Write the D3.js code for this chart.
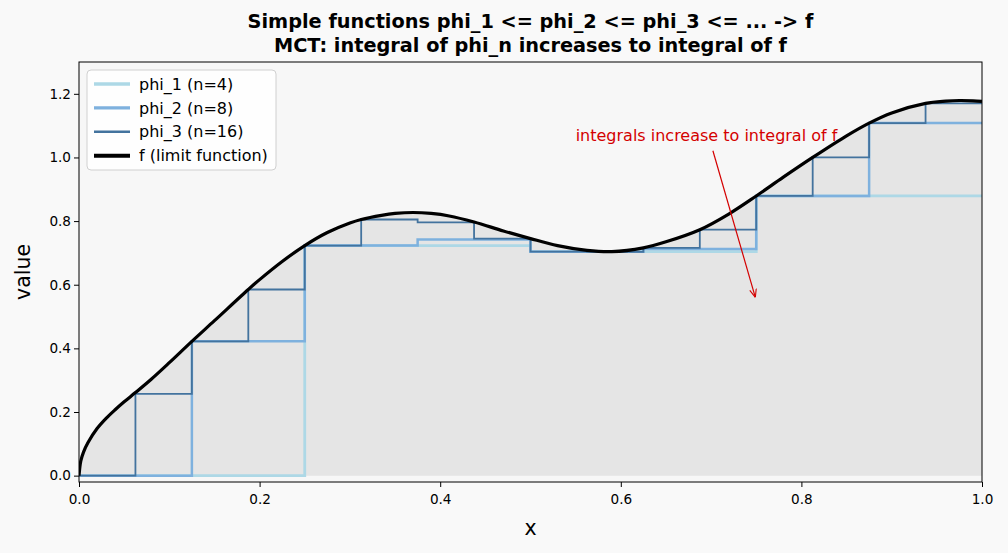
<!DOCTYPE html>
<html>
<head>
<meta charset="utf-8">
<script src="https://cdn.jsdelivr.net/npm/d3@7"></script>
<style>
  body { margin: 0; background: #f9f9f9; }
  svg { font-family: "DejaVu Sans", sans-serif; }
</style>
</head>
<body>
<div id="chart"></div>
<script>
"use strict";

// limit function f
var fX = [0, 0.002, 0.005, 0.01, 0.02, 0.03, 0.04, 0.05, 0.0625, 0.08, 0.1, 0.125, 0.15, 0.1875, 0.2, 0.225, 0.25,
  0.275, 0.3, 0.3125, 0.335, 0.35, 0.37, 0.39, 0.41, 0.4375, 0.47, 0.5, 0.53, 0.5625, 0.59, 0.625, 0.65, 0.6875,
  0.72, 0.75, 0.78, 0.8125, 0.85, 0.875, 0.9, 0.9375, 0.96, 0.975, 0.99, 1.0];
var fY = [0, 0.046, 0.074, 0.104, 0.148, 0.18, 0.207, 0.232, 0.261, 0.303, 0.355, 0.422, 0.487, 0.585, 0.616, 0.673, 0.723,
  0.764, 0.794, 0.805, 0.818, 0.824, 0.827, 0.824, 0.816, 0.797, 0.769, 0.745, 0.723, 0.708, 0.704, 0.716, 0.735, 0.773,
  0.823, 0.879, 0.938, 1.0, 1.068, 1.108, 1.14, 1.17, 1.177, 1.179, 1.178, 1.176];

// simple functions: left edges and values on each piece
var phi1Edges = [0, 0.25, 0.5, 0.75];
var phi1Vals = [0, 0.723, 0.704, 0.879];
var phi2Edges = [0, 0.125, 0.25, 0.375, 0.5, 0.625, 0.75, 0.875];
var phi2Vals = [0, 0.422, 0.723, 0.742, 0.704, 0.712, 0.879, 1.108];
var phi3Edges = [0, 0.0625, 0.125, 0.1875, 0.25, 0.3125, 0.375, 0.4375, 0.5, 0.5625, 0.625, 0.6875, 0.75, 0.8125, 0.875, 0.9375];
var phi3Vals = [0, 0.257, 0.422, 0.585, 0.723, 0.805, 0.796, 0.745, 0.704, 0.703, 0.716, 0.773, 0.879, 1.0, 1.108, 1.17];

var seriesNames = ["phi_1 (n=4)", "phi_2 (n=8)", "phi_3 (n=16)", "f (limit function)"];
var xTicks = [0, 0.2, 0.4, 0.6, 0.8, 1.0];
var yTicks = [0, 0.2, 0.4, 0.6, 0.8, 1.0, 1.2];

var W = 1008, H = 553;
var margin = {top: 62, right: 26, bottom: 71, left: 79},
    width = W - margin.left - margin.right,
    height = H - margin.top - margin.bottom;

var x = d3.scaleLinear().domain([0, 1]).range([0, width]);
var y = d3.scaleLinear().domain([-0.02, 1.3]).range([height, 0]);

var svg = d3.select("#chart").append("svg")
  .attr("width", W).attr("height", H)
  .style("background", "#f9f9f9");

var defs = svg.append("defs");
defs.append("clipPath").attr("id", "clip")
  .append("rect").attr("width", width).attr("height", height);

var g = svg.append("g").attr("transform", "translate(" + margin.left + "," + margin.top + ")");

g.append("rect").attr("width", width).attr("height", height).attr("fill", "#f7f7f7");

var plot = g.append("g").attr("clip-path", "url(#clip)");

var fData = fX.map(function(d, i) { return {x: d, y: fY[i]}; });
var smooth = d3.curveCatmullRom.alpha(0.5);

// shaded area under f
plot.append("path")
  .datum(fData)
  .attr("fill", "#e5e5e5")
  .attr("d", d3.area().curve(smooth)
    .x(function(d) { return x(d.x); })
    .y0(y(0))
    .y1(function(d) { return y(d.y); }));

function stepData(edges, vals) {
  var pts = edges.map(function(e, i) { return {x: e, y: vals[i]}; });
  pts.push({x: 1, y: vals[vals.length - 1]});
  return pts;
}

var stepLine = d3.line().curve(d3.curveStepAfter)
  .x(function(d) { return x(d.x); })
  .y(function(d) { return y(d.y); });

var legColors = ["#add8e6", "#7eb1de", "#43739e", "#000"];
var legWidths = [2.8, 2.5, 1.8, 3.4];

[[phi1Edges, phi1Vals], [phi2Edges, phi2Vals], [phi3Edges, phi3Vals]].forEach(function(s, i) {
  plot.append("path")
    .datum(stepData(s[0], s[1]))
    .attr("fill", "none")
    .attr("stroke", legColors[i])
    .attr("stroke-width", legWidths[i])
    .attr("d", stepLine);
});

plot.append("path")
  .datum(fData)
  .attr("fill", "none")
  .attr("stroke", "#000")
  .attr("stroke-width", 3.2)
  .attr("d", d3.line().curve(smooth)
    .x(function(d) { return x(d.x); })
    .y(function(d) { return y(d.y); }));

// annotation
var red = "#d40000";
defs.append("marker").attr("id", "arrow")
  .attr("viewBox", "0 0 10 10").attr("refX", 10).attr("refY", 5)
  .attr("markerWidth", 7).attr("markerHeight", 7).attr("orient", "auto")
  .append("path").attr("d", "M0,1 L10,5 L0,9").attr("fill", "none").attr("stroke", red).attr("stroke-width", 1.3);

g.append("line")
  .attr("x1", x(0.702)).attr("y1", y(1.021))
  .attr("x2", x(0.749)).attr("y2", y(0.56))
  .attr("stroke", red).attr("stroke-width", 1.2)
  .attr("marker-end", "url(#arrow)");

g.append("text")
  .attr("x", x(0.55)).attr("y", 141 - margin.top)
  .attr("fill", red).attr("font-size", 16)
  .text("integrals increase to integral of f");

// axes
var xAxis = d3.axisBottom(x).tickValues(xTicks).tickFormat(d3.format(".1f")).tickSizeOuter(0).tickSize(5);
var yAxis = d3.axisLeft(y).tickValues(yTicks).tickFormat(d3.format(".1f")).tickSizeOuter(0).tickSize(5);

var gx = g.append("g").attr("transform", "translate(0," + height + ")").call(xAxis);
var gy = g.append("g").call(yAxis);
[gx, gy].forEach(function(a) {
  a.select(".domain").remove();
  a.selectAll("text").attr("font-size", 13.6).attr("fill", "#000").style("font-family", "DejaVu Sans");
  a.selectAll("line").attr("stroke", "#000");
});
gx.selectAll("text").attr("dy", "1.05em");

g.append("rect").attr("width", width).attr("height", height)
  .attr("fill", "none").attr("stroke", "#000").attr("stroke-width", 1);

// labels
svg.append("text").attr("x", margin.left + width / 2).attr("y", 535)
  .attr("text-anchor", "middle").attr("font-size", 20.5).text("x");
svg.append("text").attr("transform", "translate(30," + (margin.top + height / 2) + ") rotate(-90)")
  .attr("text-anchor", "middle").attr("font-size", 20.5).text("value");

var title = svg.append("text").attr("text-anchor", "middle").attr("font-size", 19.3).attr("font-weight", "bold");
title.append("tspan").attr("x", margin.left + width / 2).attr("y", 28).text("Simple functions phi_1 <= phi_2 <= phi_3 <= ... -> f");
title.append("tspan").attr("x", margin.left + width / 2).attr("y", 51.5).text("MCT: integral of phi_n increases to integral of f");

// legend
var leg = g.append("g").attr("transform", "translate(8,8)");
leg.append("rect").attr("width", 189).attr("height", 100).attr("rx", 4)
  .attr("fill", "#fff").attr("fill-opacity", 0.8).attr("stroke", "#d0d0d0");
seriesNames.forEach(function(name, i) {
  var yy = 14 + i * 23.9;
  leg.append("line").attr("x1", 7).attr("x2", 43).attr("y1", yy).attr("y2", yy)
    .attr("stroke", legColors[i]).attr("stroke-width", legWidths[i] + 0.6);
  leg.append("text").attr("x", 52).attr("y", yy).attr("dy", "0.35em")
    .attr("font-size", 16).text(name);
});
</script>
</body>
</html>
